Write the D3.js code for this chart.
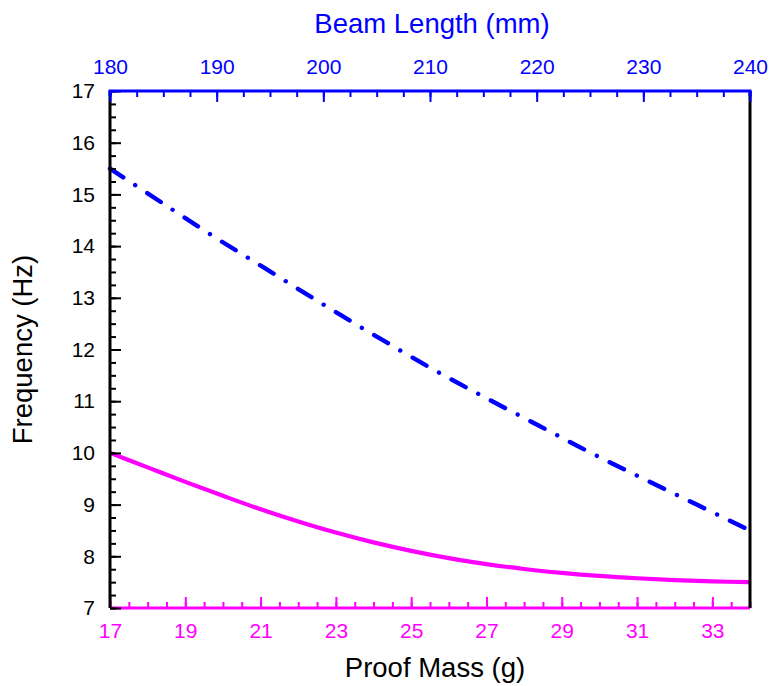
<!DOCTYPE html>
<html>
<head>
<meta charset="utf-8">
<script src="https://cdn.jsdelivr.net/npm/d3@7"></script>
<style>
  html, body { margin: 0; padding: 0; background: #fff; }
  text { font-family: Arial, "Liberation Sans", sans-serif; }
</style>
</head>
<body>
<svg id="chart" width="769" height="686"></svg>
<script>
// ---- data ----
const proofMass = [17, 18, 19, 20, 21, 22, 23, 24, 25, 26, 27, 28, 29, 30, 31, 32, 33, 34];
const freqByMass = [10.0, 9.72, 9.44, 9.17, 8.91, 8.675, 8.46, 8.27, 8.105, 7.965, 7.85, 7.755, 7.68, 7.62, 7.575, 7.54, 7.515, 7.50];

const beamLength = [180, 185, 190, 195, 200, 205, 210, 215, 220, 225, 230, 235, 240];
const freqByLength = [15.5, 14.82, 14.15, 13.51, 12.87, 12.25, 11.65, 11.09, 10.55, 10.01, 9.5, 9.0, 8.5];

const yMajorTicks = [7, 8, 9, 10, 11, 12, 13, 14, 15, 16, 17];
const massTickLabels = [17, 19, 21, 23, 25, 27, 29, 31, 33];
const lengthTickLabels = [180, 190, 200, 210, 220, 230, 240];

const BLUE = "#0000ff", MAGENTA = "#ff00ff", BLACK = "#000000";

// ---- layout ----
const W = 769, H = 686;
const m = { left: 110, right: 19, top: 91, bottom: 78 };
const iw = W - m.left - m.right, ih = H - m.top - m.bottom;

const svg = d3.select("#chart");
const g = svg.append("g").attr("transform", `translate(${m.left},${m.top})`);

const xMass = d3.scaleLinear().domain([17, 34]).range([0, iw]);
const xLen = d3.scaleLinear().domain([180, 240]).range([0, iw]);
const y = d3.scaleLinear().domain([7, 17]).range([ih, 0]);

// ---- curves ----
const lineMass = d3.line().x((d, i) => xMass(proofMass[i])).y(d => y(d)).curve(d3.curveCatmullRom);
const lineLen = d3.line().x((d, i) => xLen(beamLength[i])).y(d => y(d)).curve(d3.curveCatmullRom);

g.append("path").datum(freqByLength)
  .attr("d", lineLen)
  .attr("fill", "none").attr("stroke", BLUE).attr("stroke-width", 4.4)
  .attr("stroke-linecap", "round")
  .attr("stroke-dasharray", "16,14.3,0.01,14.3");

g.append("path").datum(freqByMass)
  .attr("d", lineMass)
  .attr("fill", "none").attr("stroke", MAGENTA).attr("stroke-width", 4.2);

// ---- axes ----
const fontTick = 21;
function styleAxis(sel, color) {
  sel.select(".domain").remove();
  sel.selectAll(".tick line").attr("stroke", color).attr("stroke-width", 2);
  sel.selectAll(".tick text").attr("fill", color).attr("font-size", fontTick)
     .attr("font-family", "Arial, 'Liberation Sans', sans-serif");
}

// bottom axis (magenta)
const gB = g.append("g").attr("transform", `translate(0,${ih})`);
gB.append("g").call(d3.axisBottom(xMass).tickValues(d3.range(17, 34.001, 0.5)).tickSize(-6).tickFormat(""))
  .call(s => styleAxis(s, MAGENTA));
gB.append("g").call(d3.axisBottom(xMass).tickValues(massTickLabels).tickSize(-11).tickPadding(15).tickFormat(d3.format("d")))
  .call(s => styleAxis(s, MAGENTA));
gB.append("line").attr("x1", 0).attr("x2", iw).attr("stroke", MAGENTA).attr("stroke-width", 3);

// right axis (black line)
g.append("line").attr("x1", iw).attr("x2", iw).attr("y1", 0).attr("y2", ih)
  .attr("stroke", BLACK).attr("stroke-width", 3);

// left axis (black)
const gL = g.append("g");
gL.append("g").call(d3.axisLeft(y).tickValues(d3.range(7, 17.001, 0.25)).tickSize(-6).tickFormat(""))
  .call(s => styleAxis(s, BLACK));
gL.append("g").call(d3.axisLeft(y).tickValues(yMajorTicks).tickSize(-11).tickPadding(15).tickFormat(d3.format("d")))
  .call(s => styleAxis(s, BLACK));
gL.append("line").attr("y1", 0).attr("y2", ih).attr("stroke", BLACK).attr("stroke-width", 3);

// top axis (blue)
const gT = g.append("g");
gT.append("g").call(d3.axisTop(xLen).tickValues(d3.range(180, 240.001, 2.5)).tickSize(-6).tickFormat(""))
  .call(s => styleAxis(s, BLUE));
gT.append("g").call(d3.axisTop(xLen).tickValues(lengthTickLabels).tickSize(-11).tickPadding(17).tickFormat(d3.format("d")))
  .call(s => styleAxis(s, BLUE));
gT.append("path")
  .attr("d", `M0,5V0H${iw}V5`)
  .attr("fill", "none").attr("stroke", BLUE).attr("stroke-width", 3);

// ---- axis titles ----
const fontTitle = 27.5;
svg.append("text").attr("x", m.left + iw / 2 + 2).attr("y", 33)
  .attr("text-anchor", "middle").attr("font-size", fontTitle).attr("fill", BLUE)
  .text("Beam Length (mm)");
svg.append("text").attr("x", m.left + iw / 2 + 5).attr("y", 677)
  .attr("text-anchor", "middle").attr("font-size", fontTitle).attr("fill", BLACK)
  .text("Proof Mass (g)");
svg.append("text")
  .attr("transform", `translate(32,${m.top + ih / 2}) rotate(-90)`)
  .attr("text-anchor", "middle").attr("font-size", fontTitle).attr("fill", BLACK)
  .text("Frequency (Hz)");
</script>
</body>
</html>
